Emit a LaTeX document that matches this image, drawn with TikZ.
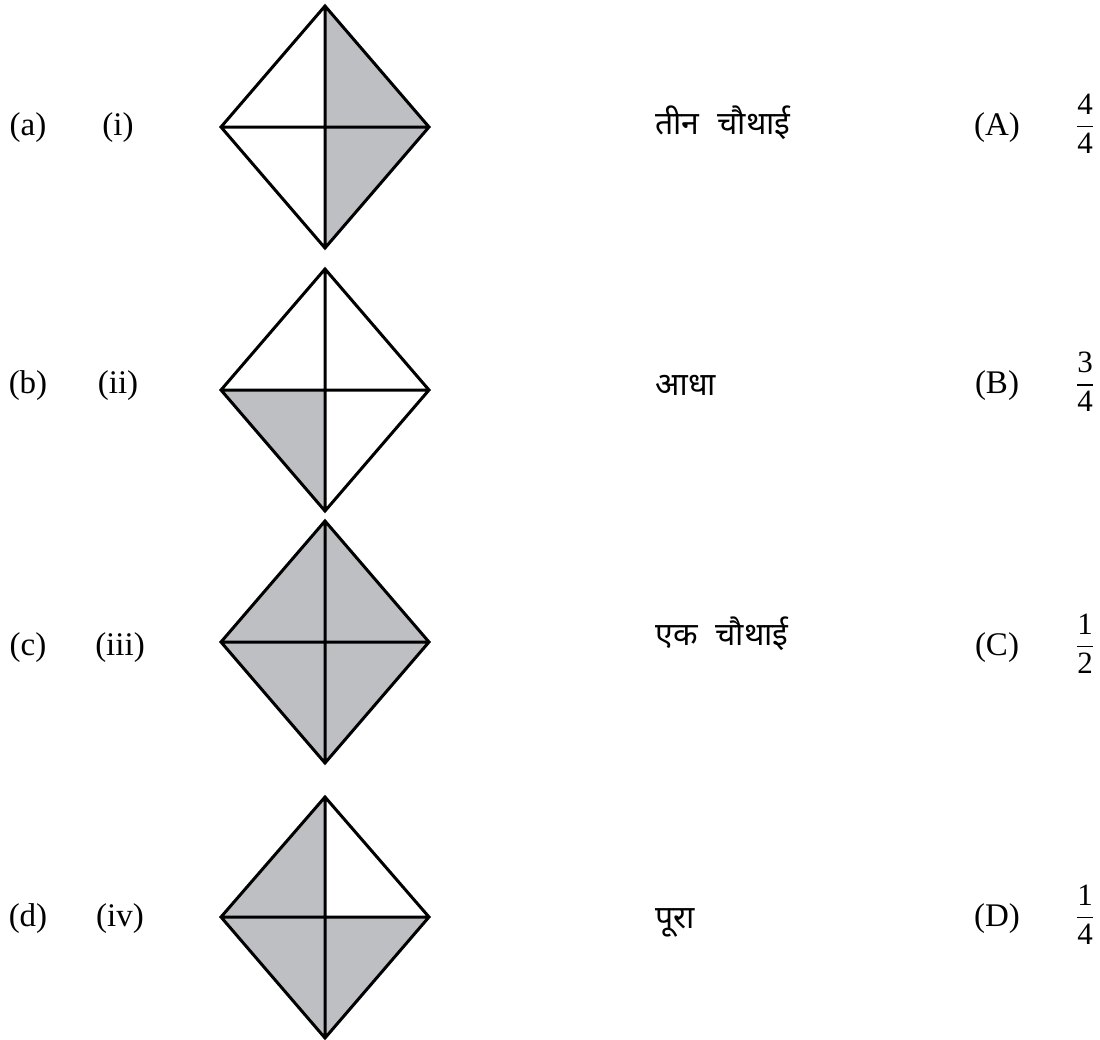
\documentclass[tikz,border=0pt]{standalone}
\usepackage{amsmath}
\usepackage{fontspec}
\setmainfont{Liberation Serif}
\newfontfamily\hindi[Script=Devanagari]{Noto Sans}
\usetikzlibrary{positioning}
\definecolor{shade}{RGB}{190,191,195}

\begin{document}
\begin{tikzpicture}[
    x=0.5pt, y=-0.5pt,
    every node/.style={inner sep=0pt, font=\fontsize{16.5}{19}\selectfont},
    lbl/.style={anchor=base},
    word/.style={anchor=base west, font=\hindi\fontsize{16}{19}\selectfont},
    frac/.style={font=\fontsize{15.5}{18}\selectfont},
    part/.style={fill=shade},
    edge/.style={draw, line width=1.5pt, line join=miter}
]
\useasboundingbox (0,0) rectangle (1100,1040);

% kite (i): right half shaded
\coordinate (t1) at (325,6);   \coordinate (b1) at (325,248);
\coordinate (l1) at (221,127); \coordinate (r1) at (429,127);
\coordinate (m1) at (325,127);
\fill[part] (t1) -- (r1) -- (b1) -- cycle;
\draw[edge] (t1) -- (r1) -- (b1) -- (l1) -- cycle (t1) -- (b1) (l1) -- (r1);

% kite (ii): lower left quarter shaded
\coordinate (t2) at (325,269); \coordinate (b2) at (325,511);
\coordinate (l2) at (221,390); \coordinate (r2) at (429,390);
\coordinate (m2) at (325,390);
\fill[part] (m2) -- (l2) -- (b2) -- cycle;
\draw[edge] (t2) -- (r2) -- (b2) -- (l2) -- cycle (t2) -- (b2) (l2) -- (r2);

% kite (iii): all shaded
\coordinate (t3) at (325,521); \coordinate (b3) at (325,763);
\coordinate (l3) at (221,642); \coordinate (r3) at (429,642);
\fill[part] (t3) -- (r3) -- (b3) -- (l3) -- cycle;
\draw[edge] (t3) -- (r3) -- (b3) -- (l3) -- cycle (t3) -- (b3) (l3) -- (r3);

% kite (iv): all but upper right quarter
\coordinate (t4) at (325,797); \coordinate (b4) at (325,1038);
\coordinate (l4) at (221,917); \coordinate (r4) at (429,917);
\coordinate (m4) at (325,917);
\fill[part] (m4) -- (t4) -- (l4) -- (b4) -- (r4) -- cycle;
\draw[edge] (t4) -- (r4) -- (b4) -- (l4) -- cycle (t4) -- (b4) (l4) -- (r4);

% left labels
\node[lbl] (a) at (28,135) {(a)};
\node[lbl] (b) at (28,393) {(b)};
\node[lbl] (c) at (28,655) {(c)};
\node[lbl] (d) at (28,926) {(d)};
\node[lbl] (i) at (118,135) {(i)};
\node[lbl] (ii) at (118,393) {(ii)};
\node[lbl] (iii) at (120,655) {(iii)};
\node[lbl] (iv) at (120,926) {(iv)};

% words
\node[word] (w1) at (655,134) {तीन\hspace{0.3em} चौथाई};
\node[word] (w2) at (655,395) {आधा};
\node[word] (w3) at (655,645) {एक\hspace{0.3em} चौथाई};
\node[word] (w4) at (655,928) {पूरा};

% right labels
\node[lbl] (A) at (997,135) {(A)};
\node[lbl] (B) at (997,393) {(B)};
\node[lbl] (C) at (997,655) {(C)};
\node[lbl] (D) at (997,926) {(D)};
\node[frac] (f1) at (1085,124) {$\dfrac{\text{4}}{\text{4}}$};
\node[frac] (f2) at (1085,382) {$\dfrac{\text{3}}{\text{4}}$};
\node[frac] (f3) at (1085,644) {$\dfrac{\text{1}}{\text{2}}$};
\node[frac] (f4) at (1085,915) {$\dfrac{\text{1}}{\text{4}}$};
\end{tikzpicture}
\end{document}
